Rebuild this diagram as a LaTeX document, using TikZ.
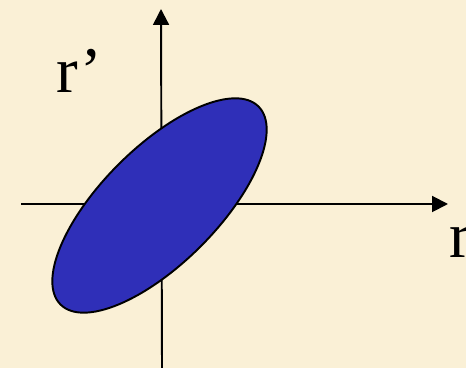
\documentclass[tikz,border=0pt]{standalone}
\usepackage{fontspec}
\setmainfont{Liberation Serif}
\usetikzlibrary{arrows.meta}
\definecolor{paper}{RGB}{250,240,214}
\definecolor{blob}{RGB}{47,47,184}

\begin{document}
\begin{tikzpicture}[x=0.02cm, y=0.02cm,
    axis/.style={line width=1.1pt, -{Triangle[length=9pt, width=9pt]}},
    lbl/.style={font=\fontsize{37}{40}\selectfont, inner sep=0pt, anchor=base west}]

        % Background
        \fill[paper] (0,0) rectangle (466,368);
        \useasboundingbox (0,0) rectangle (466,368);

        % Axis end points
        \coordinate (xs) at (21,164);
        \coordinate (xe) at (448,164);
        \coordinate (ys) at (162,0);
        \coordinate (ye) at (161,359);
        \coordinate (c) at (159.5,162.5);

        % Axes
        \draw[axis] (xs) -- (xe);
        \draw[axis] (ys) -- (ye);

        % Ellipse
        \draw[fill=blob, line width=1.1pt, rotate around={45:(c)}] (c) ellipse [x radius=140, y radius=58];

        % Labels
        \node[lbl] (rp) at (56,275) {r’};
        \node[lbl] (r) at (449,110) {r};
    \end{tikzpicture}
\end{document}
